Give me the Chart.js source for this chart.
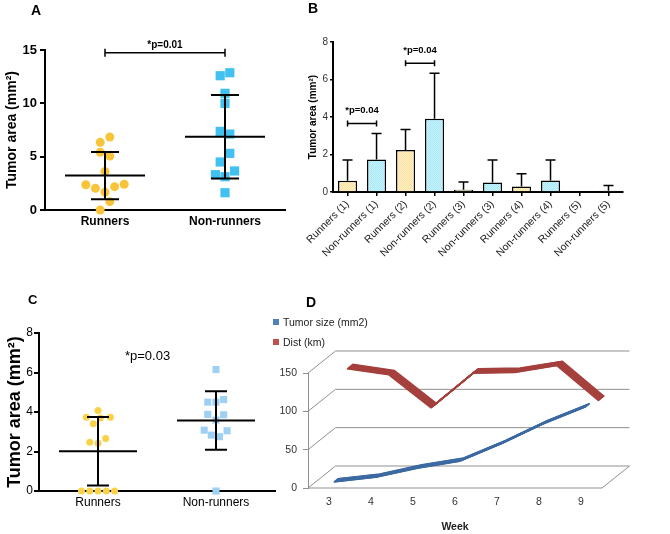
<!DOCTYPE html>
<html>
<head>
<meta charset="utf-8">
<script src="https://cdn.jsdelivr.net/npm/chart.js@4.4.1/dist/chart.umd.min.js"></script>
<style>
  html, body { margin: 0; padding: 0; background: #fff; }
  #fig { position: relative; width: 670px; height: 534px; overflow: hidden; font-family: "Liberation Sans", Arial, sans-serif; }
  #fig canvas { position: absolute; }
  .panel { position: absolute; font-weight: bold; font-size: 14px; line-height: 14px; color: #000; }
  .leg { position: absolute; font-size: 10.5px; color: #222; line-height: 12px; white-space: nowrap; }
  .leg i { display: inline-block; width: 6px; height: 6px; margin-right: 4px; vertical-align: 1px; }
</style>
</head>
<body>
<div id="fig">
  <canvas id="chartA" width="300" height="240" style="left:0;top:0"></canvas>
  <canvas id="chartB" width="365" height="290" style="left:305px;top:0"></canvas>
  <canvas id="chartC" width="282" height="244" style="left:0;top:290px"></canvas>
  <canvas id="chartD" width="395" height="244" style="left:275px;top:290px"></canvas>
  <div class="panel" style="left:31px;top:3px">A</div>
  <div class="panel" style="left:308px;top:1px">B</div>
  <div class="panel" style="left:28px;top:293px;font-size:13px">C</div>
  <div class="panel" style="left:306px;top:295px">D</div>
  <div class="leg" style="left:273px;top:316px"><i style="background:#4f81bd"></i>Tumor size (mm2)</div>
  <div class="leg" style="left:273px;top:336px"><i style="background:#c0504d"></i>Dist (km)</div>
</div>
<script>
// ---- data ----
const groupsA = ['Runners', 'Non-runners'];
const runnersA = [6.34, 6.84, 5.41, 5.06, 3.62, 2.37, 2.03, 2.19, 2.41, 1.66, 0.78, 0.0];
const nonRunnersA = [12.59, 12.87, 10.94, 10.0, 7.37, 7.12, 5.31, 4.5, 3.66, 3.31, 3.12, 1.62];
const ticksA = [0, 5, 10, 15];
const sigA = [{ from: 1, to: 2, y: 14.75, text: '*p=0.01' }];

const categoriesB = ['Runners (1)', 'Non-runners (1)', 'Runners (2)', 'Non-runners (2)', 'Runners (3)',
  'Non-runners (3)', 'Runners (4)', 'Non-runners (4)', 'Runners (5)', 'Non-runners (5)'];
const meansB = [0.6, 1.74, 2.24, 3.91, 0.12, 0.51, 0.3, 0.62, 0, 0.07];
const sdB = [1.11, 1.38, 1.09, 2.43, 0.41, 1.2, 0.67, 1.09, 0, 0.28];
const ticksB = [0, 2, 4, 6, 8];
const sigB = [{ from: 0, to: 1, y: 3.65, text: '*p=0.04' }, { from: 2, to: 3, y: 6.87, text: '*p=0.04' }];

const groupsC = ['Runners', 'Non-runners'];
const runnersC = [4.08, 3.74, 3.74, 3.41, 3.69, 2.66, 2.47, 2.42, 0, 0, 0, 0, 0];
const nonRunnersC = [6.15, 4.5, 4.5, 4.63, 3.88, 3.86, 3.59, 3.08, 3.05, 2.83, 2.75, 0];
const ticksC = [0, 2, 4, 6, 8];
const noteC = '*p=0.03';

const weeksD = ['3', '4', '5', '6', '7', '8', '9'];
const tumorSizeD = [3, 9, 21, 30, 53, 79, 101];
const distKmD = [137, 129, 86, 131, 132, 141, 95];
const ticksD = [0, 50, 100, 150];

// ---- layout: horizontal scatter of the dots (category units), 3d depth ----
const jitterRunA = [-0.04, 0.04, -0.04, 0.04, 0, -0.16, -0.08, 0.08, 0.16, 0, 0.04, -0.04];
const jitterNonA = [-0.04, 0.04, 0, 0, -0.04, 0.04, 0.04, -0.04, 0.08, -0.08, 0, 0];
const jitterRunC = [0, -0.1, 0.105, -0.04, 0.02, 0.065, -0.07, 0, -0.14, -0.07, 0, 0.07, 0.14];
const jitterNonC = [0, -0.07, 0, 0.065, -0.07, 0.065, 0, -0.1, 0.094, -0.04, 0.03, 0];
const notePosC = { x: 1.42, y: 6.8 };
const depthD = { dx: 27.5, dy: -22 };

Chart.defaults.font.family = '"Liberation Sans", Arial, sans-serif';
Chart.defaults.color = '#000';

const swarm = (values, jitter, center) => values.map((v, i) => ({ x: center + jitter[i], y: v }));
const fixTicks = list => scale => { scale.ticks = list.map(v => ({ value: v })); };

// mean line + SD whiskers, computed from each dataset
function meanSd(style) {
  return {
    id: 'meanSd',
    afterDatasetsDraw(chart) {
      const { ctx, scales: { x, y } } = chart;
      ctx.save();
      ctx.strokeStyle = '#000';
      ctx.lineWidth = style.lineWidth;
      chart.data.datasets.forEach((ds, i) => {
        const vals = ds.data.map(p => p.y);
        const m = vals.reduce((s, v) => s + v, 0) / vals.length;
        const sd = Math.sqrt(vals.reduce((s, v) => s + (v - m) ** 2, 0) / (vals.length - 1));
        const cx = x.getPixelForValue(i + 1);
        const ym = y.getPixelForValue(m), yt = y.getPixelForValue(m + sd), yb = y.getPixelForValue(m - sd);
        ctx.beginPath();
        ctx.moveTo(cx - style.meanHalf, ym); ctx.lineTo(cx + style.meanHalf, ym);
        ctx.moveTo(cx, yt); ctx.lineTo(cx, yb);
        ctx.moveTo(cx - style.capHalf, yt); ctx.lineTo(cx + style.capHalf, yt);
        ctx.moveTo(cx - style.capHalf, yb); ctx.lineTo(cx + style.capHalf, yb);
        ctx.stroke();
      });
      ctx.restore();
    }
  };
}

function sigBracket(items, style) {
  return {
    id: 'sigBracket',
    afterDatasetsDraw(chart) {
      const { ctx, scales: { x, y } } = chart;
      ctx.save();
      ctx.strokeStyle = '#000'; ctx.fillStyle = '#000';
      ctx.lineWidth = style.lineWidth;
      ctx.font = style.font;
      ctx.textAlign = 'center'; ctx.textBaseline = 'middle';
      items.forEach(b => {
        const x1 = x.getPixelForValue(b.from), x2 = x.getPixelForValue(b.to), py = y.getPixelForValue(b.y);
        ctx.beginPath();
        ctx.moveTo(x1, py); ctx.lineTo(x2, py);
        ctx.moveTo(x1, py - style.cap); ctx.lineTo(x1, py + style.cap);
        ctx.moveTo(x2, py - style.cap); ctx.lineTo(x2, py + style.cap);
        ctx.stroke();
        ctx.fillText(b.text, (x1 + x2) / 2, py - style.gap);
      });
      ctx.restore();
    }
  };
}

function errorBars(sd, capHalf) {
  return {
    id: 'errorBars',
    afterDatasetsDraw(chart) {
      const { ctx, scales: { y } } = chart;
      const ds = chart.data.datasets[0];
      ctx.save();
      ctx.strokeStyle = '#000'; ctx.lineWidth = 1.5;
      chart.getDatasetMeta(0).data.forEach((bar, i) => {
        if (!sd[i]) return;
        const yt = y.getPixelForValue(ds.data[i] + sd[i]);
        ctx.beginPath();
        ctx.moveTo(bar.x, bar.y); ctx.lineTo(bar.x, yt);
        ctx.moveTo(bar.x - capHalf, yt); ctx.lineTo(bar.x + capHalf, yt);
        ctx.stroke();
      });
      ctx.restore();
    }
  };
}

function dotPattern(base, dot) {
  const c = document.createElement('canvas');
  c.width = 2; c.height = 2;
  const g = c.getContext('2d');
  g.fillStyle = base; g.fillRect(0, 0, 2, 2);
  g.fillStyle = dot; g.fillRect(0, 0, 1, 1); g.fillRect(1, 1, 1, 1);
  return g.createPattern(c, 'repeat');
}

// Panel A
new Chart(document.getElementById('chartA'), {
  type: 'scatter',
  data: {
    datasets: [
      { data: swarm(runnersA, jitterRunA, 1), pointStyle: 'circle', pointRadius: 4.5, backgroundColor: '#f8c53a', borderWidth: 0, clip: false },
      { data: swarm(nonRunnersA, jitterNonA, 2), pointStyle: 'rect', pointRadius: 6.5, backgroundColor: '#42c1f0', borderWidth: 0, clip: false }
    ]
  },
  options: {
    responsive: false, animation: false,
    layout: { padding: { left: 0, top: 50, right: 15, bottom: 0 } },
    plugins: { legend: { display: false }, tooltip: { enabled: false } },
    scales: {
      x: {
        type: 'linear', min: 0.5, max: 2.5,
        afterBuildTicks: fixTicks([1, 2]),
        afterFit: s => { s.height = 30; },
        grid: { display: false, drawTicks: false },
        border: { color: '#000', width: 2 },
        ticks: { callback: v => groupsA[v - 1], font: { size: 12, weight: 'bold' }, color: '#000', padding: 4 }
      },
      y: {
        min: 0, max: 15,
        afterBuildTicks: fixTicks(ticksA),
        afterFit: s => { s.width = 45; },
        grid: { drawOnChartArea: false, tickLength: 5, color: '#000', lineWidth: 2 },
        border: { color: '#000', width: 2 },
        ticks: { font: { size: 13, weight: 'bold' }, color: '#000', padding: 3 },
        title: { display: true, text: 'Tumor area (mm²)', font: { size: 14, weight: 'bold' }, color: '#000' }
      }
    }
  },
  plugins: [meanSd({ lineWidth: 2, meanHalf: 40, capHalf: 14 }),
            sigBracket(sigA, { lineWidth: 1.5, cap: 4, gap: 7, font: 'bold 10px "Liberation Sans", Arial, sans-serif' })]
});

// Panel B
const yellowFill = dotPattern('#fbe29c', '#fff1c9');
const cyanFill = dotPattern('#a3e6f6', '#cdf4fc');
new Chart(document.getElementById('chartB'), {
  type: 'bar',
  data: {
    labels: categoriesB,
    datasets: [{
      data: meansB,
      backgroundColor: categoriesB.map(c => c.startsWith('Runners') ? yellowFill : cyanFill),
      borderColor: '#000', borderWidth: 1.5,
      barPercentage: 0.66, categoryPercentage: 1
    }]
  },
  options: {
    responsive: false, animation: false,
    layout: { padding: { left: 0, top: 42, right: 47, bottom: 0 } },
    plugins: { legend: { display: false }, tooltip: { enabled: false } },
    scales: {
      x: {
        afterFit: s => { s.height = 98; },
        grid: { drawOnChartArea: false, offset: false, tickLength: 4, color: '#000', lineWidth: 1.5 },
        border: { color: '#000', width: 2 },
        ticks: { autoSkip: false, minRotation: 45, maxRotation: 45, font: { size: 10.5 }, color: '#222', padding: 2 }
      },
      y: {
        min: 0, max: 8,
        afterBuildTicks: fixTicks(ticksB),
        afterFit: s => { s.width = 27; },
        grid: { drawOnChartArea: false, tickLength: 3, color: '#000', lineWidth: 1.5 },
        border: { color: '#000', width: 2 },
        ticks: { font: { size: 10 }, color: '#333', padding: 2 },
        title: { display: true, text: 'Tumor area (mm²)', font: { size: 10, weight: 'bold' }, color: '#000', padding: { top: 1, bottom: 0 } }
      }
    }
  },
  plugins: [errorBars(sdB, 5),
            sigBracket(sigB, { lineWidth: 1.5, cap: 3, gap: 13, font: 'bold 9.5px "Liberation Sans", Arial, sans-serif' })]
});

// Panel C
new Chart(document.getElementById('chartC'), {
  type: 'scatter',
  data: {
    datasets: [
      { data: swarm(runnersC, jitterRunC, 1), pointStyle: 'circle', pointRadius: 3.5, backgroundColor: '#fbd247', borderWidth: 0, clip: false },
      { data: swarm(nonRunnersC, jitterNonC, 2), pointStyle: 'rect', pointRadius: 5, backgroundColor: '#9dd0f3', borderWidth: 0, clip: false }
    ]
  },
  options: {
    responsive: false, animation: false,
    layout: { padding: { left: 0, top: 43, right: 7, bottom: 0 } },
    plugins: { legend: { display: false }, tooltip: { enabled: false } },
    scales: {
      x: {
        type: 'linear', min: 0.5, max: 2.5,
        afterBuildTicks: fixTicks([1, 2]),
        afterFit: s => { s.height = 43; },
        grid: { display: false, drawTicks: false },
        border: { color: '#000', width: 2 },
        ticks: { callback: v => groupsC[v - 1], font: { size: 12 }, color: '#000', padding: 4 }
      },
      y: {
        min: 0, max: 8,
        afterBuildTicks: fixTicks(ticksC),
        afterFit: s => { s.width = 39; },
        grid: { drawOnChartArea: false, tickLength: 5, color: '#000', lineWidth: 2 },
        border: { color: '#000', width: 2 },
        ticks: { font: { size: 12 }, color: '#000', padding: 1 },
        title: { display: true, text: 'Tumor area (mm²)', font: { size: 18, weight: 'bold' }, color: '#000' }
      }
    }
  },
  plugins: [meanSd({ lineWidth: 2, meanHalf: 39, capHalf: 11 }), {
    id: 'noteC',
    afterDatasetsDraw(chart) {
      const { ctx, scales: { x, y } } = chart;
      ctx.save();
      ctx.fillStyle = '#000';
      ctx.font = '13px "Liberation Sans", Arial, sans-serif';
      ctx.textAlign = 'center'; ctx.textBaseline = 'middle';
      ctx.fillText(noteC, x.getPixelForValue(notePosC.x), y.getPixelForValue(notePosC.y));
      ctx.restore();
    }
  }]
});

// Panel D: pseudo-3d line chart
const frame3d = {
  id: 'frame3d',
  beforeDatasetsDraw(chart) {
    const { ctx, chartArea: a, scales: { y } } = chart;
    ctx.save();
    ctx.strokeStyle = '#8f8f8f'; ctx.lineWidth = 1;
    y.ticks.forEach(t => {
      const py = y.getPixelForValue(t.value);
      ctx.beginPath();
      ctx.moveTo(a.left, py);
      ctx.lineTo(a.left + depthD.dx, py + depthD.dy);
      ctx.lineTo(a.right + depthD.dx, py + depthD.dy);
      ctx.stroke();
    });
    ctx.beginPath();
    ctx.moveTo(a.left, a.bottom);
    ctx.lineTo(a.right, a.bottom);
    ctx.lineTo(a.right + depthD.dx, a.bottom + depthD.dy);
    ctx.stroke();
    ctx.restore();
  }
};

const ribbon = {
  id: 'ribbon',
  beforeDatasetDraw(chart, args) {
    const ds = chart.data.datasets[args.index];
    const line = args.meta.dataset;
    const steps = 10;
    for (let k = 0; k <= steps; k++) {
      const t = ds.depth[0] + (ds.depth[1] - ds.depth[0]) * k / steps;
      chart.ctx.save();
      chart.ctx.translate(t * depthD.dx, t * depthD.dy);
      line.draw(chart.ctx, chart.chartArea);
      chart.ctx.restore();
    }
    return false;
  }
};

new Chart(document.getElementById('chartD'), {
  type: 'line',
  data: {
    labels: weeksD,
    datasets: [
      { label: 'Tumor size (mm2)', data: tumorSizeD, borderColor: '#3d6aa2', borderWidth: 1.5, pointRadius: 0, tension: 0, depth: [0.17, 0.32] },
      { label: 'Dist (km)', data: distKmD, borderColor: '#a5403c', borderWidth: 1.5, pointRadius: 0, tension: 0, depth: [0.65, 0.85] }
    ]
  },
  options: {
    responsive: false, animation: false,
    layout: { padding: { left: 0, top: 83, right: 68, bottom: 0 } },
    plugins: { legend: { display: false }, tooltip: { enabled: false } },
    scales: {
      x: {
        offset: true,
        afterFit: s => { s.height = 46; },
        grid: { display: false, drawTicks: false },
        border: { display: false },
        ticks: { font: { size: 10.5 }, color: '#333', padding: 8 },
        title: { display: true, text: 'Week', font: { size: 10.5, weight: 'bold' }, color: '#222', padding: { top: 0, bottom: 1 } }
      },
      y: {
        min: 0, max: 150,
        afterBuildTicks: fixTicks(ticksD),
        afterFit: s => { s.width = 33; },
        grid: { drawOnChartArea: false, tickLength: 5, color: '#8f8f8f' },
        border: { color: '#8f8f8f', width: 1 },
        ticks: { font: { size: 10.5 }, color: '#333', padding: 6 }
      }
    }
  },
  plugins: [frame3d, ribbon]
});
</script>
</body>
</html>
